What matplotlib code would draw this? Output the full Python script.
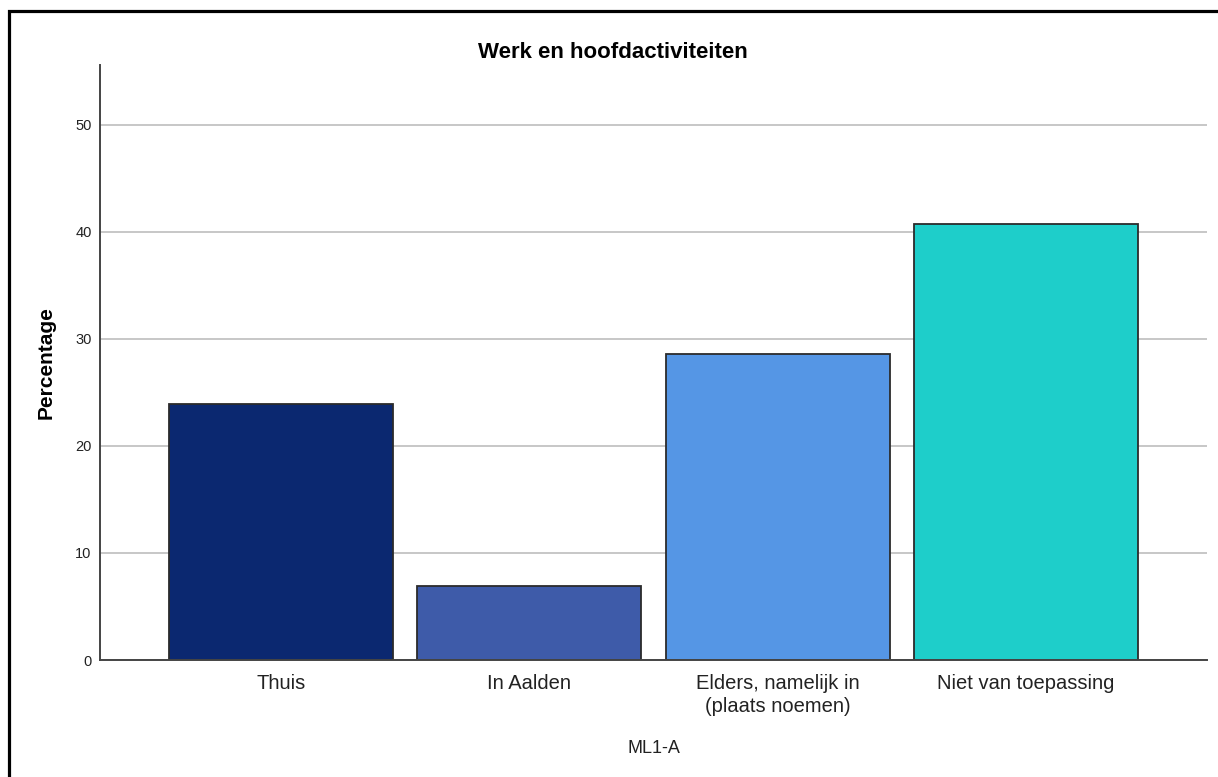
import matplotlib.pyplot as plt
from matplotlib.patches import Rectangle

# Data
categories = ['Thuis', 'In Aalden', 'Elders, namelijk in\n(plaats noemen)', 'Niet van toepassing']
percentages = [23.9, 6.9, 28.6, 40.7]
bar_colors = ['#0B2870', '#3E5BA9', '#5596E5', '#1ECECA']
y_ticks = [0, 10, 20, 30, 40, 50]

plt.rcParams['font.family'] = ['Liberation Sans', 'DejaVu Sans']

fig = plt.figure(figsize=(12.18, 7.77), dpi=100)
ax = fig.add_axes([100 / 1218, 1 - 660 / 777, 1107 / 1218, 595 / 777])

x = range(len(categories))
ax.bar(x, percentages, width=0.903, color=bar_colors, edgecolor='#2b2b2b',
       linewidth=1.3, zorder=3)

ax.set_xlim(-0.73, 3.73)
ax.set_ylim(0, 55.6)
ax.set_yticks(y_ticks)
ax.set_xticks(list(x))
ax.set_xticklabels(categories, fontsize=14.5, linespacing=1.3, color='#222222')
ax.tick_params(axis='y', length=0, pad=6, labelsize=10.5, labelcolor='#222222')
ax.tick_params(axis='x', length=0, pad=10)

ax.grid(axis='y', color='#bdbdbd', linewidth=1.2, zorder=0)
ax.set_axisbelow(True)
for side in ['top', 'right']:
    ax.spines[side].set_visible(False)
for side in ['left', 'bottom']:
    ax.spines[side].set_color('#444444')
    ax.spines[side].set_linewidth(1.4)
    ax.spines[side].set_zorder(4)

# title is centred on the whole figure, not on the axes
title = ax.set_title('Werk en hoofdactiviteiten', fontsize=16, fontweight='bold', pad=5)
title.set_x((613 - 100) / 1107)
ax.set_ylabel('Percentage', fontsize=15, fontweight='bold', labelpad=14)
ax.set_xlabel('ML1-A', fontsize=13, labelpad=17, color='#222222')

# outer black frame (left and top edges visible, rest cut off)
fig.add_artist(Rectangle((8.5 / 1218, -0.1), 1.2, 1.1 - 11 / 777,
                         transform=fig.transFigure, fill=False,
                         edgecolor='black', linewidth=2.3, clip_on=False))

fig.savefig('out.png', dpi=100)
